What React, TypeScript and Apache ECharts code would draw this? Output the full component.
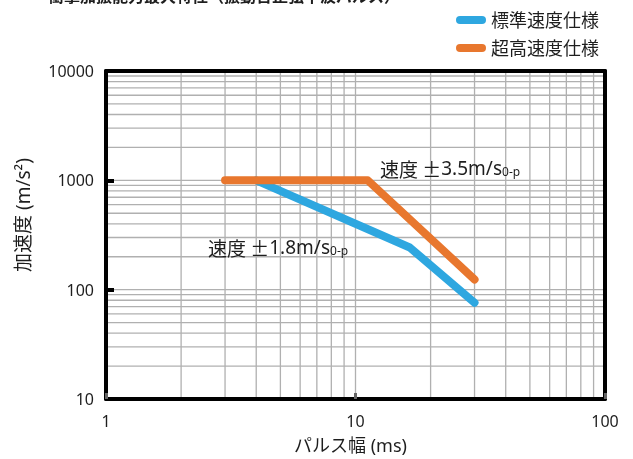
import React, { useEffect, useRef } from "react";
import * as echarts from "echarts";

const titleText = "衝撃加振能力最大特性（振動台正弦半波パルス）";
const seriesNames = ["標準速度仕様", "超高速度仕様"];
const standardData = [
  [4, 1000],
  [16.5, 243],
  [30, 76],
];
const highData = [
  [3, 1000],
  [11.2, 1000],
  [30, 124],
];
const xGridValues = [2, 3, 4, 5, 6, 7, 8, 9, 10, 20, 30, 40, 50, 60, 70, 80, 90];
const yGridValues = [
  20, 30, 40, 50, 60, 70, 80, 90, 100, 200, 300, 400, 500, 600, 700, 800, 900, 1000,
  2000, 3000, 4000, 5000, 6000, 7000, 8000, 9000,
];
const xRange = [1, 100];
const yRange = [10, 10000];
const xName = "パルス幅 (ms)";
const yName = "加速度 (m/s²)";
const notePrefix = "速度 ±";
const noteHigh = "3.5m/s";
const noteStd = "1.8m/s";
const noteSub = "0-p";

const FONT = "'Noto Sans', 'Noto Sans CJK JP', sans-serif";
const CJK = "'Noto Sans CJK JP', sans-serif";
const BLUE = "#2ea7e0";
const ORANGE = "#e8772e";
const GRID = "#b0b0b0";
const INK = "#1e1e1e";
const PILL = "path://M4,0 H26 A4,4 0 0 1 26,8 H4 A4,4 0 0 1 4,0 Z";

export default function App() {
  const ref = useRef<HTMLDivElement>(null);
  useEffect(() => {
    if (!ref.current) return;
    const chart = echarts.init(ref.current, undefined, { renderer: "svg" });
    const axisCommon = {
      type: "log" as const,
      logBase: 10,
      z: 3,
      splitLine: { show: false },
      axisLine: { show: true, lineStyle: { color: "#000", width: 4 } },
    };
    const noteRich = {
      c: { fontSize: 19, fill: INK, fontFamily: CJK },
      a: { fontSize: 19, fill: INK, fontFamily: FONT },
      b: { fontSize: 12, fill: INK, fontFamily: FONT, verticalAlign: "bottom", padding: [6, 0, 0, 0] },
    };
    chart.setOption({
      animation: false,
      textStyle: { fontFamily: FONT },
      grid: { left: 106, right: 28, top: 71, bottom: 59 },
      legend: {
        data: seriesNames,
        orient: "vertical",
        right: 29,
        top: 6,
        itemWidth: 30,
        itemHeight: 8,
        itemGap: 10,
        icon: PILL,
        textStyle: { fontSize: 18, color: INK, fontFamily: FONT },
      },
      graphic: [
        {
          type: "text",
          left: 48,
          top: -12,
          style: { text: titleText, fontSize: 16, fontWeight: "bold", fill: INK, fontFamily: FONT },
        },
        {
          type: "text",
          x: 23,
          y: 215,
          rotation: Math.PI / 2,
          style: {
            text: yName,
            fontSize: 19,
            fill: INK,
            align: "center",
            verticalAlign: "middle",
            fontFamily: FONT,
          },
        },
        {
          type: "text",
          x: 380,
          y: 168,
          z: 10,
          style: { text: `{c|${notePrefix}}{a|${noteHigh}}{b|${noteSub}}`, verticalAlign: "middle", rich: noteRich },
        },
        {
          type: "text",
          x: 208,
          y: 247,
          z: 10,
          style: { text: `{c|${notePrefix}}{a|${noteStd}}{b|${noteSub}}`, verticalAlign: "middle", rich: noteRich },
        },
      ],
      xAxis: [
        {
          ...axisCommon,
          position: "bottom",
          min: xRange[0],
          max: xRange[1],
          name: xName,
          nameLocation: "middle",
          nameGap: 37,
          nameTextStyle: { fontSize: 18, color: INK, fontFamily: FONT, padding: [0, 10, 0, 0] },
          axisTick: { show: true, inside: true, length: 6, lineStyle: { color: "#666", width: 3 } },
          axisLabel: {
            fontSize: 16,
            color: INK,
            margin: 14,
            fontFamily: FONT,
            formatter: (v: number) => String(v),
          },
        },
        {
          ...axisCommon,
          position: "top",
          min: xRange[0],
          max: xRange[1],
          axisTick: { show: false },
          axisLabel: { show: false },
        },
      ],
      yAxis: [
        {
          ...axisCommon,
          position: "left",
          min: yRange[0],
          max: yRange[1],
          axisTick: { show: true, inside: true, length: 8, lineStyle: { color: "#000", width: 4 } },
          axisLabel: {
            fontSize: 16,
            color: INK,
            margin: 12,
            fontFamily: FONT,
            formatter: (v: number) => String(v),
          },
        },
        {
          ...axisCommon,
          position: "right",
          min: yRange[0],
          max: yRange[1],
          axisTick: { show: false },
          axisLabel: { show: false },
        },
      ],
      series: [
        {
          type: "custom",
          name: "vgrid",
          z: 1,
          silent: true,
          data: xGridValues.map((v) => [v, 100]),
          renderItem: (params: any, api: any) => {
            const cs = params.coordSys;
            const x = api.coord([api.value(0), 100])[0];
            return {
              type: "line",
              shape: { x1: x, y1: cs.y + 2, x2: x, y2: cs.y + cs.height - 2 },
              style: { stroke: GRID, lineWidth: 1.3 },
            };
          },
        },
        {
          type: "custom",
          name: "hgrid",
          z: 1,
          silent: true,
          data: yGridValues.map((v) => [10, v]),
          renderItem: (params: any, api: any) => {
            const cs = params.coordSys;
            const y = api.coord([10, api.value(1)])[1];
            return {
              type: "line",
              shape: { x1: cs.x + 2, y1: y, x2: cs.x + cs.width - 2, y2: y },
              style: { stroke: GRID, lineWidth: 1.3 },
            };
          },
        },
        {
          type: "line",
          name: seriesNames[0],
          z: 5,
          color: BLUE,
          data: standardData,
          showSymbol: false,
          symbol: "none",
          lineStyle: { color: BLUE, width: 8, cap: "round", join: "round" },
        },
        {
          type: "line",
          name: seriesNames[1],
          z: 6,
          color: ORANGE,
          data: highData,
          showSymbol: false,
          symbol: "none",
          lineStyle: { color: ORANGE, width: 8, cap: "round", join: "round" },
        },
      ],
    });
    return () => chart.dispose();
  }, []);
  return <div ref={ref} style={{ position: "fixed", left: 0, top: 0, width: 633, height: 459 }} />;
}
